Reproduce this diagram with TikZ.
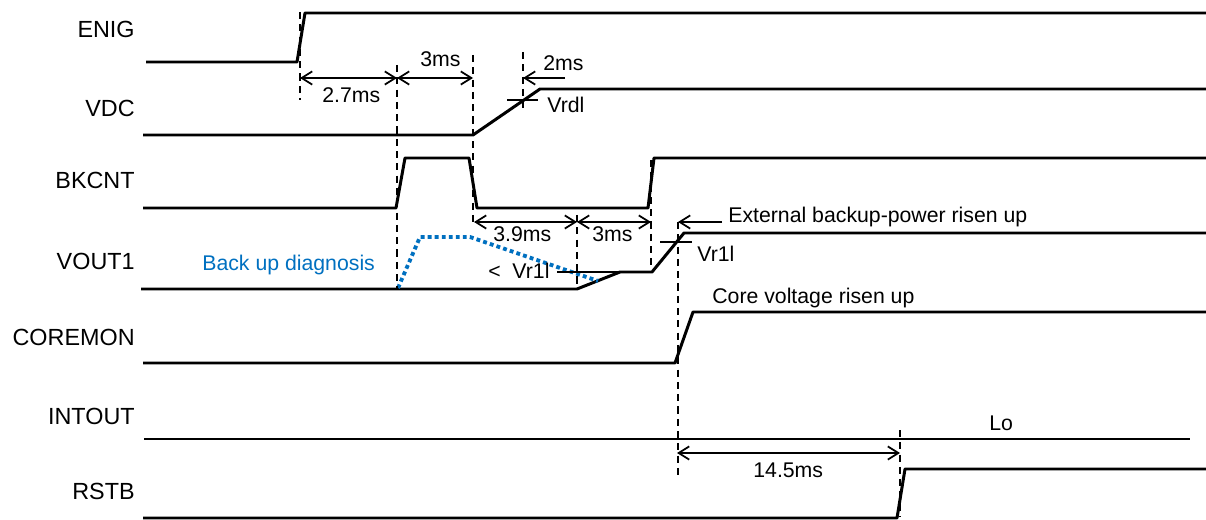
\documentclass[tikz,border=0pt]{standalone}
\usepackage{fontspec}
\setmainfont{Liberation Sans}
\usetikzlibrary{arrows.meta}
\definecolor{diagblue}{RGB}{0,112,192}
\begin{document}
\begin{tikzpicture}[line join=round, x=0.02cm, y=-0.02cm,
            >={Straight Barb[length=6pt,width=7.5pt]},
            sig/.style={line width=1.7pt},
            guide/.style={line width=0.8pt, dash pattern=on 4pt off 3pt},
            dim/.style={line width=1pt},
            lbl/.style={font=\fontsize{13.3}{15}\selectfont, anchor=east, inner sep=0pt},
            ann/.style={font=\fontsize{12.1}{14}\selectfont, anchor=base west, inner sep=0pt}
            ]
            \useasboundingbox (0,0) rectangle (1206,520);
            % signal names
            \foreach \n/\y in {ENIG/29,VDC/108,BKCNT/180,VOUT1/261,COREMON/337,INTOUT/416,RSTB/491}
            \node[lbl] (\n) at (135,\y) {\n};
            % waveforms
            \draw[sig] (146,62)--(297,62)--(305,13)--(1206,13);
            \draw[sig] (143,135)--(473,135)--(540,89)--(1206,89);
            \draw[sig] (143,208)--(396,208)--(405,158)--(469,158)--(477,208)--(648,208)--(654,158)--(1206,158);
            \draw[sig] (141,289)--(577,289)--(620,272)--(652,272)--(684,233)--(1206,233);
            \draw[sig] (143,363)--(675,363)--(693,312)--(1206,312);
            \draw[sig] (144,439)--(1190,439);
            \draw[sig] (143,518)--(897,518)--(905,469)--(1206,469);
            % back up diagnosis
            \draw[diagblue, line width=2.2pt, dash pattern=on 2.2pt off 1.8pt] (398,288)--(420,237)--(470,237)--(598,281);
            \node[ann, text=diagblue] (diag) at (202,270) {Back up diagnosis};
            % guide lines
            \foreach \x/\a/\b in {300/12/100,397/65/289,473/55/225,523/52/110,577/215/289,651/160/272,678/222/476,900/430/517}
            \draw[guide] (\x,\a)--(\x,\b);
            % thresholds
            \draw[dim] (507,100)--(538,100);
            \draw[dim] (660,242)--(692,242);
            \draw[dim] (557,272)--(620,272);
            % time marks
            \path
            (300,78) coordinate (t0)
            (397,78) coordinate (t1)
            (473,78) coordinate (t2)
            (523,78) coordinate (t3)
            (565,78) coordinate (t3r)
            (474,222) coordinate (b1)
            (577,222) coordinate (b2)
            (651,222) coordinate (b3)
            (678,222) coordinate (e0)
            (722,222) coordinate (e1)
            (677,453) coordinate (r0)
            (900,453) coordinate (r1);
            \draw[dim,<->] (t0)--(t1);
            \draw[dim,<->] (t1)--(t2);
            \draw[dim,->] (t3r)--(t3);
            \draw[dim,<->] (b1)--(b2);
            \draw[dim,<->] (b2)--(b3);
            \draw[dim,->] (e1)--(e0);
            \draw[dim,<->] (r0)--(r1);
            % texts
            \node[ann] (d27) at (322,103) {2.7ms};
            \node[ann] (d3a) at (420,67) {3ms};
            \node[ann] (d2) at (543,71) {2ms};
            \node[ann] (vrdl) at (547,113) {Vrdl};
            \node[ann] (d39) at (493,241) {3.9ms};
            \node[ann] (d3b) at (592,241) {3ms};
            \node[ann] (vlow) at (488,278) {<\hspace{0.55em}Vr1l};
            \node[ann] (vr1l) at (697,261) {Vr1l};
            \node[ann] (ext) at (728,222) {External backup-power risen up};
            \node[ann] (core) at (712,303) {Core voltage risen up};
            \node[ann] (lo) at (989,430) {Lo};
            \node[ann] (d145) at (753,477) {14.5ms};
\end{tikzpicture}
\end{document}
